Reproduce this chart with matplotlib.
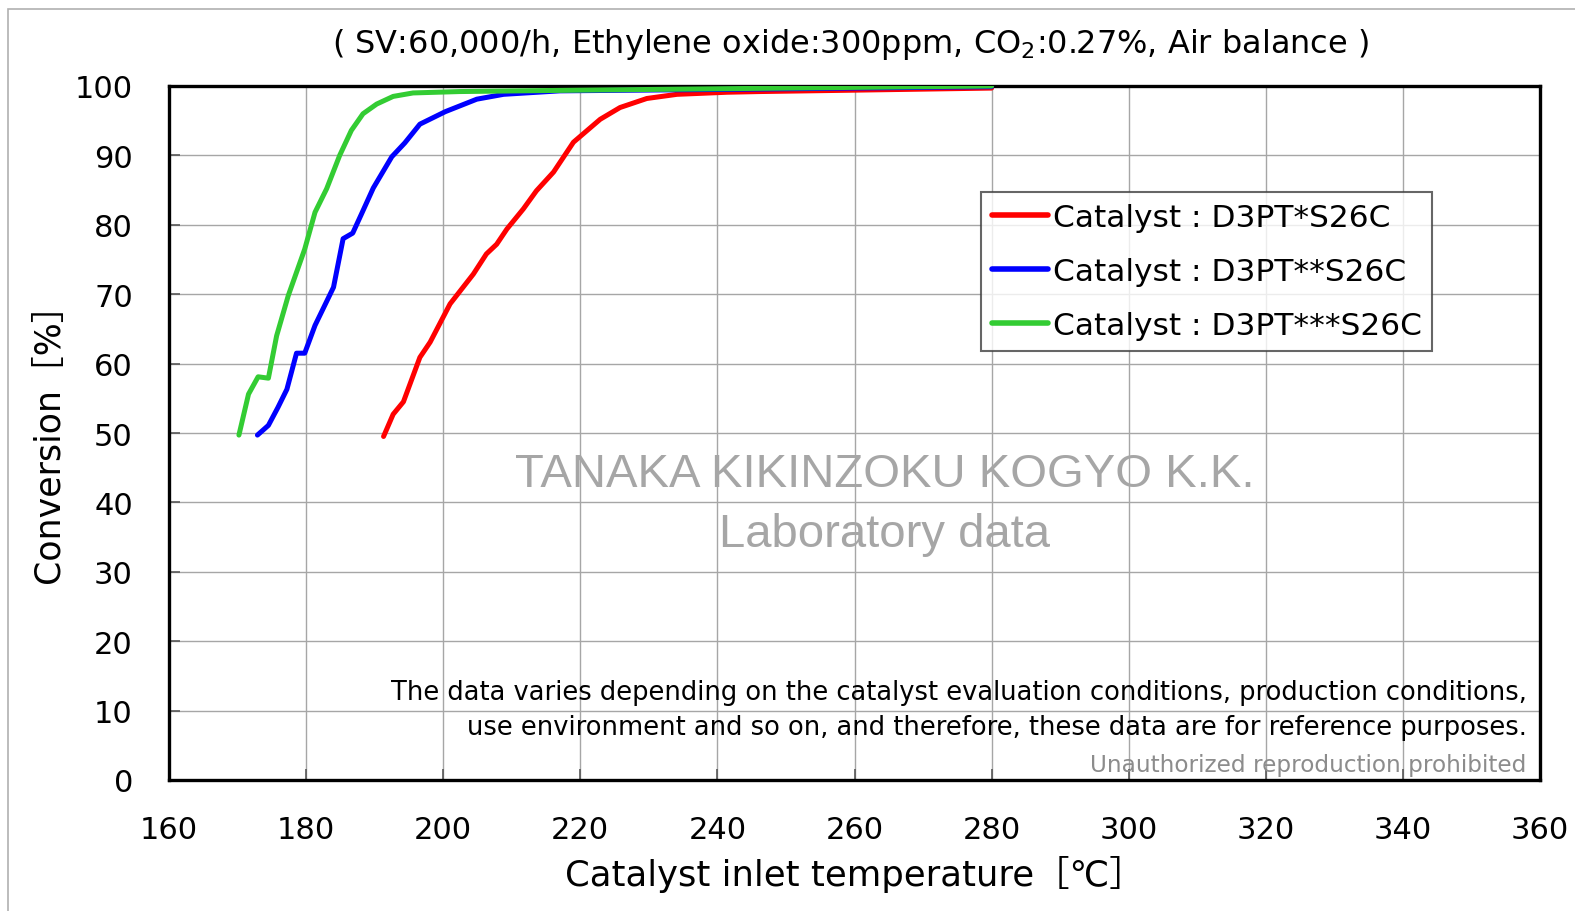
import matplotlib
matplotlib.use("Agg")
import matplotlib.pyplot as plt
from matplotlib.patches import Rectangle

# catalyst inlet temperature [degC] vs conversion [%]
t_red = [191.3, 192.7, 194.2, 196.6, 198.1, 201.0, 204.4, 206.3, 207.8, 209.3, 211.7, 213.6,
         216.1, 219.0, 222.9, 225.8, 229.7, 234.1, 241.4, 246.2, 260.0, 280.0]
c_red = [49.5, 52.7, 54.5, 60.9, 63.1, 68.6, 72.9, 75.8, 77.2, 79.4, 82.3, 84.9,
         87.6, 91.9, 95.2, 96.9, 98.2, 98.8, 99.1, 99.2, 99.4, 99.7]

t_blue = [172.9, 174.5, 175.9, 177.2, 178.6, 179.8, 181.3, 184.0, 185.4, 186.8, 188.1, 189.8,
          192.5, 194.4, 196.6, 200.3, 204.9, 208.8, 217.0, 240.0, 280.0]
c_blue = [49.7, 51.1, 53.7, 56.3, 61.5, 61.5, 65.5, 71.0, 78.0, 78.8, 81.6, 85.3,
          89.8, 91.8, 94.5, 96.3, 98.1, 98.8, 99.3, 99.5, 99.9]

t_green = [170.2, 171.6, 173.0, 174.5, 175.7, 177.4, 179.8, 181.3, 183.0, 184.9, 186.6, 188.3,
           190.3, 192.7, 195.6, 202.4, 220.0, 250.0, 280.0]
c_green = [49.7, 55.6, 58.1, 57.9, 64.0, 69.8, 76.5, 81.8, 85.2, 90.0, 93.6, 96.0,
           97.4, 98.5, 99.0, 99.2, 99.4, 99.7, 100.0]

labels = ["Catalyst : D3PT*S26C", "Catalyst : D3PT**S26C", "Catalyst : D3PT***S26C"]
colors = ["#ff0000", "#0000ff", "#33cc33"]

x_ticks = list(range(160, 361, 20))
y_ticks = list(range(0, 101, 10))

plt.rcParams['font.family'] = ['DejaVu Sans', 'Noto Sans CJK JP']

fig = plt.figure(figsize=(15.75, 9.12), dpi=100)
W, H = 1575, 912
ax = fig.add_axes([169 / W, 1 - 781 / H, (1540 - 169) / W, (781 - 87) / H])

# outer chart-area border
fig.patches.append(Rectangle((8 / W, -0.1), 1.1, 1 - 10 / H + 0.1, transform=fig.transFigure,
                             fill=False, edgecolor="#b0b0b0", linewidth=1.2))

series = [(t_red, c_red), (t_blue, c_blue), (t_green, c_green)]
for (t, c), lab, col in zip(series, labels, colors):
    ax.plot(t, c, color=col, linewidth=3.6, label=lab, solid_capstyle="round", zorder=3)

ax.set_xlim(160, 360)
ax.set_ylim(0, 100)
ax.set_xticks(x_ticks)
ax.set_yticks(y_ticks)
ax.grid(True, color="#a6a6a6", linewidth=1.0)
ax.set_axisbelow(True)
for s in ax.spines.values():
    s.set_linewidth(2.4)
    s.set_color("black")
ax.tick_params(direction="in", length=8, width=1.2, color="#595959", labelsize=22)
ax.tick_params(axis="y", pad=26)
ax.tick_params(axis="x", pad=25)

# watermark
ax.text(0.522, 0.441, "TANAKA KIKINZOKU KOGYO K.K.", transform=ax.transAxes, ha="center",
        va="center", fontsize=34, color="#a6a6a6", family="Liberation Sans", zorder=2)
ax.text(0.522, 0.354, "Laboratory data", transform=ax.transAxes, ha="center",
        va="center", fontsize=34, color="#a6a6a6", family="Liberation Sans", zorder=2)

# disclaimer
ax.text(0.9905, 0.102, "The data varies depending on the catalyst evaluation conditions, production conditions,\n"
        "use environment and so on, and therefore, these data are for reference purposes.",
        transform=ax.transAxes, ha="right", va="center", fontsize=18.5, linespacing=1.45,
        color="black")
ax.text(0.99, 0.023, "Unauthorized reproduction prohibited", transform=ax.transAxes, ha="right",
        va="center", fontsize=16.7, color="#8c8c8c")

leg = ax.legend(loc="upper left", bbox_to_anchor=(0.592, 0.847), fontsize=22.5, frameon=True,
                fancybox=False, edgecolor="#404040", handlelength=1.8, handletextpad=0.15,
                borderpad=0.35, labelspacing=0.8, borderaxespad=0)
leg.get_frame().set_linewidth(1.5)
for line in leg.get_lines():
    line.set_linewidth(4)

fig.text((335 + 1367) / 2 / W, 1 - 44 / H,
         "( SV:60,000/h, Ethylene oxide:300ppm, CO$_2$:0.27%, Air balance )",
         ha="center", va="center", fontsize=23)
ax.set_xlabel("Catalyst inlet temperature［℃］", fontsize=25.5, labelpad=8)
ax.set_ylabel("Conversion［%］", fontsize=25, labelpad=6)

fig.savefig("out.png", dpi=100)
